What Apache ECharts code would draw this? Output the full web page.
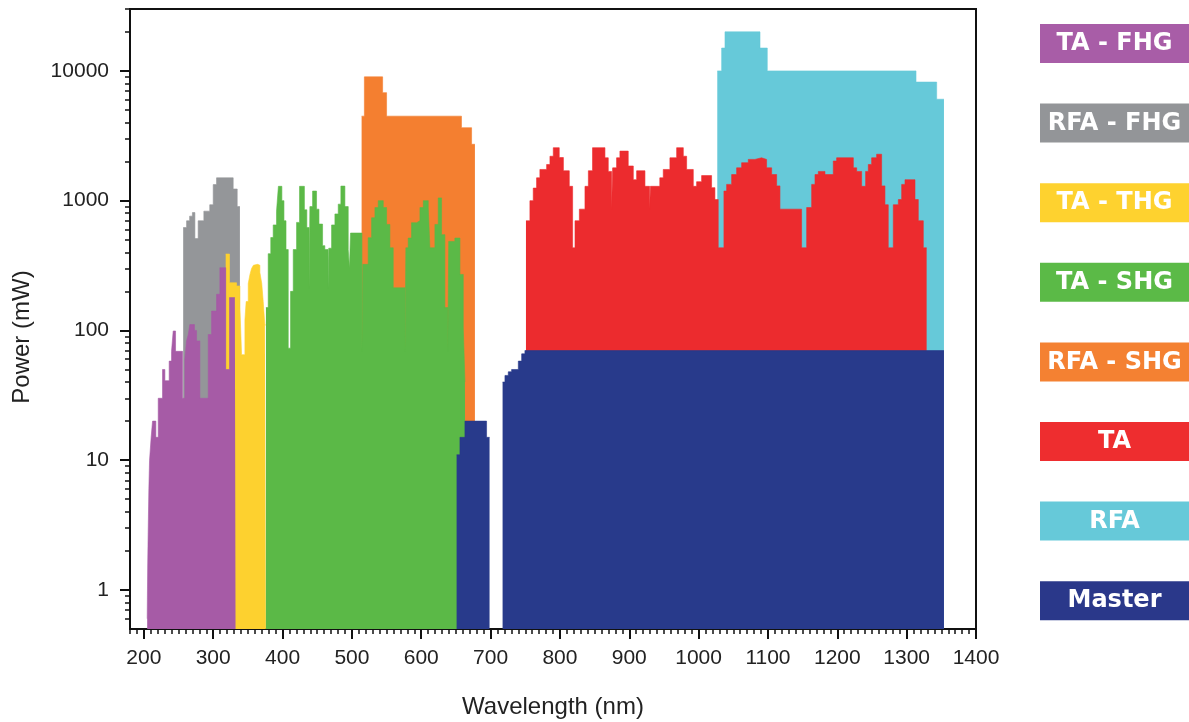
<!DOCTYPE html>
<html><head><meta charset="utf-8">
<script src="https://cdn.jsdelivr.net/npm/echarts@6/dist/echarts.min.js"></script>
<style>html,body{margin:0;padding:0;background:#fff}#c{width:1189px;height:722px}</style>
</head><body><div id="c"></div>
<script>
// ---- axis ranges & tick labels ----
const xMin = 180, xMax = 1400;
const yMin = 0.5, yMax = 30000;
const xTickLabels = [200, 300, 400, 500, 600, 700, 800, 900, 1000, 1100, 1200, 1300, 1400];
const yTickLabels = [1, 10, 100, 1000, 10000];
const yMinorTicks = [0.6, 0.7, 0.8, 0.9, 2, 3, 4, 5, 6, 7, 8, 9, 20, 30, 40, 50, 60, 70, 80, 90,
  200, 300, 400, 500, 600, 700, 800, 900, 2000, 3000, 4000, 5000, 6000, 7000, 8000, 9000, 20000, 30000];
const xTitle = 'Wavelength (nm)';
const yTitle = 'Power (mW)';

// ---- series: [wavelength nm, power mW] step breakpoints ----
const rfaFhg = [[256.7,620],[261.6,700],[266,760],[270,810],[273.6,510],[278.3,700],[286.5,830],[295,930],[300,1330],[304.8,1500],[328.8,1230],[334.6,900],[338.5,900]];
const taThg = [[318,388],[323.5,233],[333.7,220],[338.5,150],[340.9,65],[345.7,120],[347.5,167],[350.5,230],[353,270],[355.3,300],[358,318],[360.1,323],[364,318],[367.3,280],[370,230],[372.1,167],[374.5,110],[376,110]];
const taFhg = [[204.8,0.6],[205.5,1.5],[206.3,3],[207.2,6],[208.2,10],[210.5,15],[212.5,20],[217.3,15],[220.7,30],[226.9,50],[230.3,41],[236.5,58],[239.9,69],[242.3,99],[245.7,69],[255.8,30],[259.1,60],[261.5,83],[264,93],[266.3,111],[273,100],[276,83],[280.8,30],[292.8,93],[297.6,141],[304.8,190],[309.6,304],[318,50],[323.5,179],[331.2,179],[332.2,179]];
const rfaShg = [[514,4480],[518,9000],[544.3,6800],[550,4480],[658,3650],[672.6,2720],[677.4,2720]];
const taShg = [[376,150],[379.3,390],[383,520],[386.5,650],[391.3,830],[394,1290],[399,1000],[402,700],[405,420],[408.2,73],[411.5,200],[415.4,420],[420.2,680],[424.5,1290],[431.5,850],[435,620],[438.3,210],[439.4,900],[443.3,1186],[449,860],[452.5,660],[457.7,450],[461,420],[465.6,210],[466.6,430],[470.7,650],[475.5,790],[480.3,940],[484.1,1295],[489.9,900],[494.7,420],[496.5,300],[498,563],[514.5,69],[515.7,323],[523.5,518],[528.4,738],[533.2,885],[538,1000],[545.2,885],[550,656],[554.8,433],[559.6,213],[576.6,69],[577.8,433],[581.2,515],[586,676],[593.3,700],[598.1,885],[603,1000],[610.1,885],[612.5,433],[619.7,656],[624.5,1050],[629.3,547],[634.1,150],[638.4,69],[639.6,485],[648.5,515],[655.8,270],[660.6,105],[663,40],[664,40]];
const rfa = [[1026.9,10000],[1033.2,15000],[1038,20000],[1088.5,15000],[1099,10000],[1313.5,8200],[1343.3,6050],[1353.8,6050]];
const ta = [[751,700],[756.7,1000],[761.5,1250],[766.3,1500],[771.1,1740],[780.8,1900],[785.6,2200],[790.4,2560],[799,2150],[805,1700],[813.5,1290],[818.3,433],[821.7,700],[828,860],[836.1,1290],[841,1700],[847,2560],[864.9,2140],[869.7,1680],[874.5,860],[876,1790],[881.7,2140],[886.5,2410],[898.5,1850],[905.8,1450],[910.6,1700],[922.6,1290],[929.3,860],[930.5,1290],[944,1500],[949,1740],[958.6,2140],[968.3,2560],[977.9,2200],[982.7,1740],[992.3,1290],[997.1,1400],[1004.3,1560],[1018.7,1260],[1023.5,1020],[1028.3,433],[1036.5,1186],[1040.4,1335],[1047.6,1590],[1054.8,1790],[1062,1960],[1071.6,2080],[1081.2,2140],[1090.8,2080],[1098,1790],[1105.3,1590],[1112.5,1300],[1117.3,860],[1148.5,433],[1155.8,885],[1163,1335],[1167.8,1590],[1172.6,1680],[1182.2,1590],[1194.2,2020],[1199,2140],[1223.1,1790],[1227.9,1680],[1235.1,1290],[1240.8,1680],[1244.7,1900],[1249.5,2140],[1256.7,2280],[1263.9,1300],[1268.7,930],[1273.5,433],[1280.7,930],[1288,1020],[1292.8,1335],[1297.6,1450],[1312,1020],[1316.8,700],[1324,433],[1328.8,433]];
const masterA = [[651,11],[655.8,15],[663,20],[694.2,15],[698.5,15]];
const masterB = [[717.3,40],[720.7,45],[725.5,48],[730.3,50],[740,58],[744.8,66],[749.5,70],[1353.8,70]];

// ---- legend (right-hand labels) ----
const legendLabels = ['TA - FHG', 'RFA - FHG', 'TA - THG', 'TA - SHG', 'RFA - SHG', 'TA', 'RFA', 'Master'];
const legendColors = ['#A85DA7', '#939598', '#FED22F', '#5BBA47', '#F48132', '#EE2D2F', '#66C9D9', '#2A388A'];

const C = {fhgTA:'#A65BA6', fhgRFA:'#949699', thg:'#FDD12F', shgTA:'#5BB947', shgRFA:'#F47F30', ta:'#EC2B2E', rfa:'#66C9D9', master:'#283A8B'};

function area(name, data, color) {
  return {
    type: 'line', name, data, step: 'end', symbol: 'none', showSymbol: false,
    lineStyle: {width: 0.6, color}, areaStyle: {color, opacity: 1, origin: 'start'},
    itemStyle: {color}, silent: true, animation: false, xAxisIndex: 0, yAxisIndex: 0
  };
}

const chart = echarts.init(document.getElementById('c'), null, {renderer: 'canvas'});
const graphics = [];
legendLabels.forEach((t, i) => {
  const top = 24 + i * 79.6;
  graphics.push({type: 'rect', shape: {x: 1040, y: top, width: 149, height: 39}, style: {fill: legendColors[i]}, silent: true});
  graphics.push({type: 'text', x: 1114.5, y: top + 20, style: {text: t, fill: '#fff', font: 'bold 24px "DejaVu Sans", sans-serif', textAlign: 'center', textVerticalAlign: 'middle'}, silent: true});
});

chart.setOption({
  animation: false,
  backgroundColor: '#fff',
  textStyle: {fontFamily: '"Liberation Sans", Arial, sans-serif'},
  grid: {left: 130, right: 213, top: 9, bottom: 93, show: true, borderColor: '#111', borderWidth: 2, backgroundColor: 'transparent', containLabel: false, outerBoundsMode: 'none'},
  xAxis: [
    {type: 'value', min: xMin, max: xMax, position: 'bottom',
     axisLine: {show: true, lineStyle: {color: '#111', width: 2}},
     axisTick: {show: true, customValues: xTickLabels, length: 10, lineStyle: {color: '#111', width: 2}},
     axisLabel: {customValues: xTickLabels, color: '#222', fontSize: 21, margin: 19, formatter: v => String(v)},
     splitLine: {show: false},
     name: xTitle, nameLocation: 'middle', nameGap: 66,
     nameTextStyle: {color: '#222', fontSize: 24}},
    {type: 'value', min: xMin, max: xMax, interval: 10, position: 'bottom',
     axisLine: {show: false}, axisTick: {show: true, length: 5, lineStyle: {color: '#111', width: 1.5}},
     axisLabel: {show: false}, splitLine: {show: false}}
  ],
  yAxis: [
    {type: 'log', logBase: 10, min: yMin, max: yMax, position: 'left',
     axisLine: {show: true, lineStyle: {color: '#111', width: 2}},
     axisTick: {show: true, customValues: yTickLabels, length: 10, lineStyle: {color: '#111', width: 2}},
     axisLabel: {customValues: yTickLabels, color: '#222', fontSize: 21, margin: 21, formatter: v => String(v)},
     splitLine: {show: false},
     name: yTitle, nameLocation: 'middle', nameGap: 96,
     nameTextStyle: {color: '#222', fontSize: 24, padding: [0, 36, 0, 0]}},
    {type: 'log', logBase: 10, min: yMin, max: yMax, position: 'left',
     axisLine: {show: false},
     axisTick: {show: true, customValues: yMinorTicks, length: 5, lineStyle: {color: '#111', width: 1.5}},
     axisLabel: {show: false}, splitLine: {show: false}}
  ],
  series: [
    area('RFA - FHG', rfaFhg, C.fhgRFA),
    area('TA - THG', taThg, C.thg),
    area('TA - FHG', taFhg, C.fhgTA),
    area('RFA - SHG', rfaShg, C.shgRFA),
    area('TA - SHG', taShg, C.shgTA),
    area('RFA', rfa, C.rfa),
    area('TA', ta, C.ta),
    area('Master', masterA, C.master),
    area('Master', masterB, C.master)
  ],
  graphic: graphics
});
</script>
</body></html>
